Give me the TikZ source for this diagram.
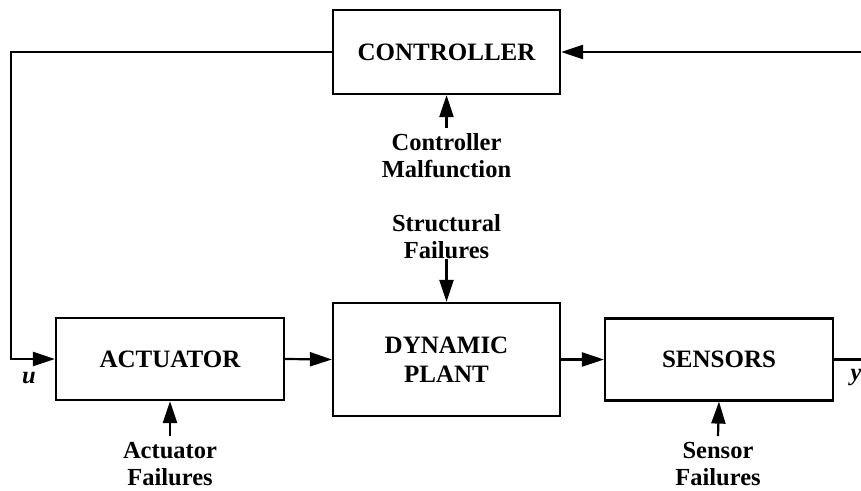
\documentclass[tikz,border=0pt]{standalone}
\usepackage{fontspec}
\setmainfont{Liberation Serif}
\usetikzlibrary{arrows.meta}
\tikzset{
  blk/.style={draw, line width=2.2pt, inner sep=0pt, font=\fontsize{25}{29}\selectfont\bfseries, align=center},
  lbl/.style={inner sep=0pt, font=\fontsize{24.5}{27}\selectfont\bfseries, align=center},
  arr/.style={line width=2.2pt, -{Triangle[length=22pt,width=14pt]}},
  ln/.style={line width=2.2pt}
}
\begin{document}
\begin{tikzpicture}[x=1pt,y=-1pt]
\useasboundingbox (0,0) rectangle (861,490);
\node[blk, minimum width=227pt, minimum height=84pt] (ctrl) at (446.5,52) {CONTROLLER};
\node[blk, minimum width=228pt, minimum height=82pt] (act) at (170,359) {ACTUATOR};
\node[blk, minimum width=227pt, minimum height=113pt] (plant) at (446.5,359.5) {DYNAMIC\\PLANT};
\node[blk, minimum width=228pt, minimum height=82pt] (sens) at (719,359.5) {SENSORS};

\node[lbl] (cm) at (446.5,156) {Controller\\Malfunction};
\node[lbl] (sf) at (446.5,237) {Structural\\Failures};
\node[lbl] (af) at (170,464) {Actuator\\Failures};
\node[lbl] (snf) at (718,464) {Sensor\\Failures};
\node[lbl, font=\fontsize{24.5}{27}\selectfont\bfseries\itshape] (u) at (29,378) {u};
\node[lbl, font=\fontsize{24.5}{27}\selectfont\bfseries\itshape] (y) at (856,378) {y};

\coordinate (cl) at (11,359);
\coordinate (cr) at (864,359.5);

\draw[arr] (ctrl.west) -| (cl) -- (act.west);
\draw[arr] (act.east) -- (plant.west);
\draw[arr] (plant.east) -- (sens.west);
\draw[arr] (sens.east) -- (cr) |- (ctrl.east);

\draw[arr] ([yshift=6pt]cm.north) -- (ctrl.south);
\draw[arr] (sf.south) -- (plant.north);
\draw[arr] ([yshift=6pt]af.north) -- (act.south);
\draw[arr] ([yshift=6pt]snf.north) -- (sens.south);
\end{tikzpicture}
\end{document}
